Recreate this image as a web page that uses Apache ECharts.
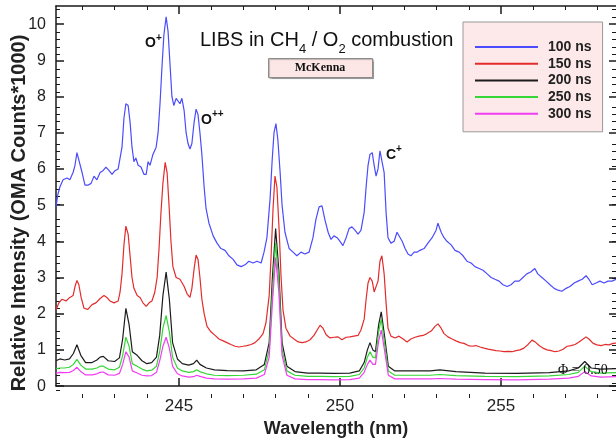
<!DOCTYPE html>
<html><head><meta charset="utf-8">
<script src="https://cdn.jsdelivr.net/npm/echarts@6/dist/echarts.min.js"></script>
<style>html,body{margin:0;padding:0;background:#fff}#c{width:616px;height:443px}</style>
</head><body><div id="c"></div>
<script>
// ---- data (wavelength in nm, intensity in OMA counts/1000) ----
const wl100 = [241.18,241.24,241.30,241.40,241.52,241.61,241.71,241.77,241.83,241.89,
241.99,242.08,242.17,242.27,242.36,242.45,242.55,242.64,242.73,242.83,
242.92,243.01,243.11,243.17,243.23,243.29,243.35,243.42,243.48,243.54,
243.60,243.66,243.73,243.82,243.91,243.98,244.04,244.10,244.19,244.29,
244.35,244.41,244.47,244.53,244.60,244.66,244.72,244.78,244.84,244.91,
244.97,245.03,245.09,245.16,245.22,245.28,245.34,245.40,245.47,245.53,
245.59,245.65,245.71,245.78,245.84,245.93,246.06,246.18,246.30,246.43,
246.55,246.68,246.80,246.93,247.05,247.17,247.30,247.42,247.55,247.64,
247.73,247.83,247.89,247.95,248.01,248.07,248.14,248.20,248.29,248.42,
248.54,248.66,248.79,248.91,249.04,249.16,249.25,249.35,249.44,249.53,
249.63,249.72,249.81,249.91,250.00,250.09,250.19,250.28,250.37,250.47,
250.56,250.65,250.75,250.81,250.87,250.93,251.00,251.06,251.12,251.18,
251.24,251.30,251.37,251.43,251.49,251.58,251.68,251.77,251.83,251.93,
252.02,252.11,252.20,252.30,252.39,252.48,252.61,252.73,252.86,252.98,
253.04,253.14,253.23,253.32,253.45,253.57,253.70,253.82,253.94,254.07,
254.19,254.32,254.44,254.57,254.69,254.81,254.94,255.06,255.19,255.31,
255.43,255.56,255.68,255.80,255.92,256.05,256.14,256.27,256.40,256.52,
256.65,256.77,256.89,257.02,257.14,257.27,257.39,257.52,257.64,257.73,
257.83,257.95,258.07,258.20,258.32,258.45,258.57];
const int100 = [4.95,5.3,5.5,5.7,5.75,5.7,5.9,6.1,6.45,6.4,
5.9,5.55,5.55,5.6,5.8,5.7,5.9,5.95,6.05,5.95,
5.85,5.95,6.0,6.0,6.6,7.4,7.8,7.75,7.3,6.6,
6.2,6.3,6.1,6.05,5.85,5.85,6.2,6.1,6.4,6.6,
7.0,7.8,8.8,9.7,10.2,9.8,8.9,8.0,7.75,7.95,
7.95,7.8,7.95,7.6,7.0,6.7,6.55,6.7,7.3,7.65,
7.5,7.0,6.4,5.5,4.9,4.5,4.15,3.95,3.8,3.75,
3.6,3.5,3.35,3.3,3.35,3.45,3.4,3.45,3.4,3.7,
4.1,5.2,6.2,7.0,7.25,6.8,5.9,5.0,4.25,3.8,
3.7,3.6,3.7,3.65,3.7,4.1,4.6,4.95,4.98,4.6,
4.25,4.05,4.15,4.1,4.0,3.88,4.1,4.35,4.4,4.3,
4.2,4.3,4.8,5.5,6.1,6.4,6.45,6.1,5.8,6.0,
6.5,6.45,5.9,4.8,4.1,3.95,4.0,4.25,4.3,4.0,
3.8,3.65,3.6,3.7,3.7,3.75,3.8,3.95,4.1,4.3,
4.5,4.25,4.1,4.0,3.9,3.75,3.7,3.6,3.45,3.4,
3.3,3.25,3.2,3.1,3.0,2.95,2.9,2.8,2.75,2.8,
2.9,2.9,3.0,3.1,3.15,3.25,3.1,3.0,2.9,2.8,
2.7,2.65,2.62,2.7,2.75,2.85,2.9,2.95,3.05,2.95,
2.8,2.85,2.9,2.85,2.9,2.9,2.95];

const wl150 = [241.18,241.27,241.37,241.49,241.61,241.71,241.77,241.83,241.89,241.96,
242.05,242.17,242.30,242.42,242.55,242.67,242.76,242.86,242.98,243.11,
243.17,243.23,243.29,243.35,243.42,243.48,243.54,243.60,243.70,243.79,
243.88,243.98,244.07,244.16,244.25,244.32,244.38,244.44,244.50,244.57,
244.63,244.69,244.75,244.81,244.91,245.03,245.16,245.25,245.34,245.40,
245.47,245.53,245.59,245.65,245.71,245.78,245.87,245.99,246.12,246.24,
246.37,246.49,246.61,246.74,246.86,246.99,247.11,247.24,247.36,247.48,
247.61,247.70,247.80,247.86,247.92,247.98,248.04,248.11,248.17,248.23,
248.32,248.45,248.57,248.70,248.82,248.94,249.07,249.19,249.29,249.38,
249.47,249.57,249.69,249.81,249.94,250.06,250.19,250.31,250.43,250.56,
250.65,250.75,250.81,250.87,250.93,251.00,251.06,251.12,251.18,251.24,
251.30,251.37,251.43,251.49,251.58,251.71,251.83,251.96,252.08,252.20,
252.33,252.45,252.58,252.70,252.83,252.95,253.04,253.14,253.23,253.35,
253.48,253.60,253.73,253.85,253.98,254.10,254.22,254.35,254.47,254.60,
254.72,254.84,254.97,255.09,255.22,255.34,255.47,255.59,255.71,255.84,
255.96,256.06,256.18,256.30,256.43,256.55,256.68,256.80,256.93,257.05,
257.17,257.30,257.42,257.55,257.64,257.73,257.86,257.98,258.11,258.23,
258.35,258.48,258.57];
const int150 = [2.1,2.3,2.4,2.35,2.45,2.5,2.75,2.92,2.8,2.45,
2.15,2.12,2.25,2.3,2.42,2.5,2.45,2.35,2.3,2.35,
2.6,3.1,3.9,4.42,4.2,3.6,3.0,2.7,2.5,2.45,
2.3,2.2,2.3,2.35,2.6,3.0,3.8,4.8,5.6,6.18,
5.9,5.0,4.0,3.3,3.0,2.95,2.75,2.55,2.45,2.7,
3.25,3.62,3.5,3.0,2.4,2.0,1.65,1.5,1.4,1.3,
1.25,1.2,1.15,1.1,1.08,1.1,1.12,1.15,1.2,1.3,
1.45,1.75,2.5,3.6,4.9,5.8,5.5,4.3,3.0,2.1,
1.6,1.38,1.3,1.22,1.2,1.22,1.28,1.4,1.55,1.68,
1.6,1.42,1.33,1.35,1.36,1.28,1.35,1.36,1.38,1.4,
1.55,1.85,2.4,2.85,3.0,2.9,2.6,2.55,2.9,3.45,
3.6,3.1,2.3,1.6,1.38,1.33,1.38,1.3,1.22,1.3,
1.35,1.38,1.4,1.45,1.52,1.65,1.72,1.6,1.45,1.36,
1.3,1.25,1.2,1.18,1.12,1.1,1.12,1.08,1.05,1.02,
1.0,0.98,0.97,0.95,0.96,0.95,0.98,1.0,1.05,1.15,
1.27,1.22,1.12,1.05,1.0,0.98,0.95,0.97,1.02,1.1,
1.12,1.15,1.22,1.3,1.36,1.3,1.18,1.14,1.12,1.15,
1.14,1.18,1.19];

const wlLate = [241.18,241.3,241.45,241.6,241.72,241.83,241.95,242.1,242.3,242.45,
242.55,242.65,242.8,243.0,243.15,243.25,243.35,243.45,243.55,243.7,
243.85,244.0,244.15,244.3,244.4,244.5,244.6,244.7,244.8,244.95,
245.1,245.3,245.45,245.55,245.65,245.85,246.1,246.5,247.0,247.4,
247.65,247.8,247.9,248.0,248.1,248.2,248.35,248.6,249.0,249.4,
249.8,250.3,250.6,250.75,250.85,250.93,251.02,251.1,251.2,251.28,
251.38,251.5,251.7,252.2,252.8,253.1,253.6,254.5,255.5,256.5,
257.1,257.4,257.6,257.8,258.1,258.57];
const int200 = [0.7,0.75,0.72,0.75,0.9,1.14,0.85,0.65,0.65,0.72,
0.8,0.82,0.7,0.68,0.78,1.3,2.15,1.7,0.95,0.85,
0.7,0.62,0.65,0.8,1.4,2.5,3.15,2.4,1.2,0.75,
0.62,0.58,0.62,0.72,0.6,0.5,0.45,0.43,0.42,0.45,
0.6,1.2,3.0,4.35,3.2,1.2,0.55,0.4,0.36,0.36,
0.35,0.36,0.42,0.65,1.0,1.2,1.0,0.95,1.7,2.05,
1.4,0.55,0.42,0.42,0.42,0.45,0.4,0.36,0.35,0.37,
0.42,0.5,0.68,0.5,0.47,0.48];
const int250 = [0.48,0.5,0.5,0.52,0.6,0.74,0.58,0.47,0.47,0.5,
0.55,0.55,0.47,0.45,0.52,0.85,1.35,1.1,0.62,0.55,
0.47,0.42,0.44,0.55,0.95,1.6,1.95,1.5,0.8,0.5,
0.42,0.38,0.4,0.45,0.4,0.34,0.3,0.29,0.3,0.33,
0.45,1.0,2.6,3.95,2.9,1.0,0.42,0.3,0.27,0.27,
0.26,0.27,0.32,0.5,0.8,0.95,0.8,0.78,1.5,1.85,
1.2,0.42,0.3,0.3,0.3,0.32,0.29,0.27,0.26,0.28,
0.32,0.38,0.55,0.4,0.36,0.37];
const int300 = [0.35,0.38,0.37,0.38,0.43,0.52,0.4,0.31,0.31,0.34,
0.38,0.39,0.31,0.3,0.35,0.6,0.95,0.8,0.42,0.36,
0.3,0.28,0.29,0.38,0.7,1.1,1.35,1.05,0.55,0.34,
0.28,0.25,0.26,0.3,0.27,0.22,0.2,0.19,0.2,0.22,
0.32,0.8,2.3,3.55,2.6,0.85,0.3,0.2,0.18,0.18,
0.17,0.18,0.22,0.38,0.6,0.72,0.6,0.6,1.25,1.55,
1.0,0.3,0.2,0.2,0.2,0.21,0.19,0.18,0.17,0.19,
0.22,0.27,0.4,0.28,0.25,0.26];

const seriesNames = ['100 ns','150 ns','200 ns','250 ns','300 ns'];
const xTickMajor = [245, 250, 255];
const xTickMinor = [242,243,244,246,247,248,249,251,252,253,254,256,257,258];
const yTickMajor = [0,1,2,3,4,5,6,7,8,9,10];
const yTickMinor = [];
for (let i = 1; i <= 52; i++) { if (i % 5 !== 0) yTickMinor.push(+(i * 0.2).toFixed(1)); }

// ---- chart ----
const X_MIN = 241.18, X_MAX = 258.57, Y_MIN = 0, Y_MAX = 10.5;
const colors = ['#4b4bff', '#e32b2b', '#1c1c1c', '#35d635', '#f23ef2'];
const SANS = 'Liberation Sans, Arial, sans-serif';
const SERIF = 'Liberation Serif, Times New Roman, serif';
const zip = (xs, ys) => xs.map((x, i) => [x, ys[i]]);
const pairs = [zip(wl100, int100), zip(wl150, int150), zip(wlLate, int200), zip(wlLate, int250), zip(wlLate, int300)];

const axisCol = '#1a1a1a';
function xAx(grid, pos, ticks, len, showLine, labels) {
  return {
    gridIndex: grid, type: 'value', position: pos, min: X_MIN, max: X_MAX,
    axisLine: { show: showLine, onZero: false, lineStyle: { color: axisCol, width: 1.5 } },
    axisTick: { show: true, inside: true, length: len, customValues: ticks, lineStyle: { color: axisCol, width: len > 5 ? 1.5 : 1 } },
    axisLabel: labels ? { show: true, customValues: xTickMajor, fontSize: 17, color: '#222', margin: 12, fontFamily: SANS } : { show: false },
    splitLine: { show: false }
  };
}
function yAx(grid, pos, ticks, len, showLine, labels) {
  return {
    gridIndex: grid, type: 'value', position: pos, min: Y_MIN, max: Y_MAX,
    axisLine: { show: showLine, onZero: false, lineStyle: { color: axisCol, width: 1.5 } },
    axisTick: { show: true, inside: true, length: len, customValues: ticks, lineStyle: { color: axisCol, width: len > 5 ? 1.5 : 1 } },
    axisLabel: labels ? { show: true, customValues: yTickMajor, fontSize: 16, color: '#222', margin: 10, fontFamily: SANS } : { show: false },
    splitLine: { show: false }
  };
}
const xAxes = [
  xAx(0, 'bottom', xTickMajor, 8, true, true),
  xAx(0, 'top', xTickMajor, 8, true, false),
  xAx(1, 'bottom', xTickMinor, 4, false, false),
  xAx(1, 'top', xTickMinor, 4, false, false)
];
Object.assign(xAxes[0], { name: 'Wavelength (nm)', nameLocation: 'middle', nameGap: 23,
  nameTextStyle: { fontSize: 18, fontWeight: 'bold', color: '#222', fontFamily: SANS } });
const yAxes = [
  yAx(0, 'left', yTickMajor, 8, true, true),
  yAx(0, 'right', yTickMajor, 7, false, false),
  yAx(1, 'left', yTickMinor, 4, false, false),
  yAx(1, 'right', yTickMinor, 4, false, false)
];

// text pieces with sub/superscripts, laid out by measuring text widths
const mctx = document.createElement('canvas').getContext('2d');
function textRun(pieces, x0, yMid, z) {
  const out = [];
  let x = x0;
  pieces.forEach(p => {
    const font = (p.bold ? 'bold ' : '') + p.fs + 'px ' + (p.family || SANS);
    mctx.font = font;
    out.push({ type: 'text', x: x, y: yMid + (p.dy || 0), z: z,
      style: { text: p.t, fontSize: p.fs, fontWeight: p.bold ? 'bold' : 'normal', fontFamily: p.family || SANS,
               fill: '#111', align: 'left', verticalAlign: 'middle' } });
    x += mctx.measureText(p.t).width;
  });
  return out;
}
const titleEls = textRun([
  { t: 'LIBS in CH', fs: 20 }, { t: '4', fs: 13, dy: 9 }, { t: ' / O', fs: 20 }, { t: '2', fs: 13, dy: 9 }, { t: ' combustion', fs: 20 }
], 200, 40, 10);
const oPlus = textRun([{ t: 'O', fs: 14, bold: true }, { t: '+', fs: 10, bold: true, dy: -5 }], 145, 43, 10);
const oPP = textRun([{ t: 'O', fs: 14, bold: true }, { t: '++', fs: 10, bold: true, dy: -6 }], 201, 120, 10);
const cPlus = textRun([{ t: 'C', fs: 14, bold: true }, { t: '+', fs: 10, bold: true, dy: -6 }], 386, 155, 10);

const option = {
  animation: false,
  backgroundColor: '#ffffff',
  color: colors,
  grid: [
    { left: 56, right: 0, top: 6, bottom: 45 },
    { left: 56, right: 0, top: 6, bottom: 45 }
  ],
  xAxis: xAxes,
  yAxis: yAxes,
  legend: {
    data: seriesNames, left: 463, top: 22, orient: 'vertical', icon: 'rect',
    itemWidth: 63, itemHeight: 2, itemGap: 2.7, padding: [18, 11, 11, 12],
    backgroundColor: '#fde9e9', borderColor: '#9a9a9a', borderWidth: 1,
    textStyle: { fontSize: 14, fontWeight: 'bold', color: '#222', fontFamily: SANS, padding: [0, 0, 0, 5] },
    selectedMode: false
  },
  series: seriesNames.map((n, i) => ({
    name: n, type: 'line', xAxisIndex: 0, yAxisIndex: 0, data: pairs[i],
    symbol: 'none', smooth: false, z: 2 + i,
    lineStyle: { width: 1.2, color: colors[i] }, itemStyle: { color: colors[i] }
  })),
  graphic: [
    { type: 'text', x: 19, y: 213, rotation: Math.PI / 2, z: 10,
      style: { text: 'Relative Intensity (OMA Counts*1000)', fontSize: 20, fontWeight: 'bold', fontFamily: SANS,
               fill: '#222', align: 'center', verticalAlign: 'middle' } },
    { type: 'rect', shape: { x: 268.5, y: 58.5, width: 104, height: 19 }, z: 10,
      style: { fill: '#fce6e6', stroke: '#8c8c8c', lineWidth: 1, shadowColor: 'rgba(0,0,0,0.25)', shadowOffsetX: 1, shadowOffsetY: 1, shadowBlur: 1 } },
    { type: 'text', x: 320, y: 68, z: 11,
      style: { text: 'McKenna', fontSize: 12, fontWeight: 'bold', fontFamily: SERIF, fill: '#111', align: 'center', verticalAlign: 'middle' } },
    { type: 'text', x: 558, y: 370, z: 10,
      style: { text: '\u03A6 = 0.50', fontSize: 14, fontFamily: SERIF, fill: '#111', verticalAlign: 'middle' } }
  ].concat(titleEls, oPlus, oPP, cPlus)
};
const chart = echarts.init(document.getElementById('c'), null, { renderer: 'canvas' });
chart.setOption(option);
</script></body></html>
